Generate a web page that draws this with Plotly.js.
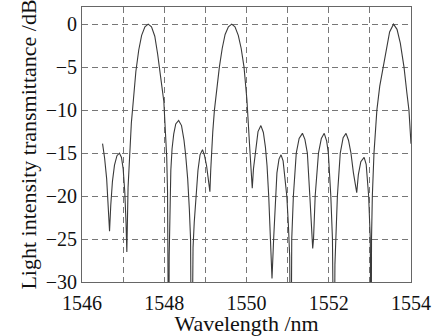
<!DOCTYPE html>
<html>
<head>
<meta charset="utf-8">
<script src="https://cdn.plot.ly/plotly-3.0.1.min.js"></script>
<style>html,body{margin:0;padding:0;background:#fff;}#chart{width:447px;height:336px;}</style>
</head>
<body>
<div id="chart"></div>
<script>
// Wavelength (nm) and transmittance (dB)
const wavelength = [
1546.50,1546.55,1546.60,1546.64,1546.67,1546.70,1546.74,1546.79,1546.85,1546.91,
1546.96,1547.00,1547.04,1547.07,1547.09,1547.12,1547.16,1547.20,1547.25,1547.31,
1547.38,1547.45,1547.53,1547.61,1547.69,1547.77,1547.84,1547.87,1547.93,1547.99,
1548.03,1548.06,1548.08,1548.10,1548.11,1548.12,1548.135,1548.16,1548.19,1548.23,
1548.28,1548.35,1548.42,1548.48,1548.52,1548.57,1548.61,1548.64,1548.665,1548.68,
1548.70,1548.73,1548.77,1548.82,1548.87,1548.93,1548.98,1549.03,1549.07,1549.11,
1549.13,1549.15,1549.18,1549.22,1549.28,1549.34,1549.41,1549.48,1549.56,1549.64,
1549.72,1549.80,1549.87,1549.94,1550.01,1550.05,1550.08,1550.11,1550.14,1550.17,
1550.22,1550.28,1550.35,1550.41,1550.46,1550.50,1550.54,1550.58,1550.62,1550.66,
1550.70,1550.74,1550.79,1550.84,1550.89,1550.94,1550.98,1551.02,1551.05,1551.08,
1551.10,1551.14,1551.21,1551.28,1551.36,1551.42,1551.48,1551.54,1551.58,1551.61,
1551.63,1551.67,1551.75,1551.82,1551.89,1551.95,1551.99,1552.05,1552.09,1552.13,
1552.15,1552.17,1552.21,1552.28,1552.35,1552.42,1552.48,1552.54,1552.60,1552.68,
1552.72,1552.78,1552.86,1552.91,1552.94,1552.97,1553.01,1553.03,1553.04,1553.06,
1553.10,1553.17,1553.24,1553.32,1553.40,1553.48,1553.575,1553.66,1553.74,1553.83,
1553.90,1553.95,1554.00
];
const transmittance = [
-13.9,-15.6,-18.0,-21.0,-24.1,-21.0,-18.3,-16.4,-15.3,-15.0,
-15.5,-16.8,-19.5,-23.0,-26.5,-19.0,-14.5,-11.5,-8.8,-5.5,
-3.0,-1.3,-0.3,0,-0.3,-1.4,-3.5,-4.8,-6.8,-9.0,
-12.0,-15.5,-19.5,-26.0,-45,-27,-21,-17,-14.5,-12.8,
-11.6,-11.2,-11.8,-13.5,-15.2,-18.0,-21.5,-25.0,-45,-30,
-26,-23,-20,-17,-15.2,-14.6,-15.3,-16.5,-18.0,-19.5,
-17.0,-15.0,-12.5,-10.0,-7.3,-5.0,-2.8,-1.2,-0.3,0,
-0.3,-1.3,-2.8,-5.0,-8.8,-11.5,-14.5,-16.8,-19.1,-16.8,
-14.5,-12.5,-11.8,-12.6,-14.3,-16.5,-20.0,-24.0,-29.6,-25.0,
-20.0,-17.3,-15.7,-15.2,-15.9,-17.8,-20.0,-23.5,-27.0,-45,
-25,-20,-15,-13.3,-12.7,-13.4,-15.0,-20.0,-24.0,-26.1,
-25.0,-20.0,-15.0,-13.3,-12.7,-13.6,-15.0,-20.0,-25.0,-45,
-28,-25,-20,-15,-13.2,-12.7,-13.5,-15.0,-17.3,-19.6,
-17.5,-16.0,-15.5,-16.3,-17.8,-20.0,-25.0,-45,-25,-20,
-15,-10,-7.2,-5.0,-2.6,-0.9,0,-0.6,-2.2,-5.0,
-8.0,-10.0,-13.9
];
const xTickVals = [1546,1547,1548,1549,1550,1551,1552,1553,1554];
const xTickText = ["1546","","1548","","1550","","1552","","1554"];
const yTickVals = [-30,-25,-20,-15,-10,-5,0];
const yTickText = ["\u221230","\u221225","\u221220","\u221215","\u221210","\u22125","0"];

const font = "Liberation Serif";
const trace = {
  x: wavelength, y: transmittance, type: "scatter", mode: "lines",
  line: {color: "#3a3a3a", width: 1.1}, hoverinfo: "none"
};
const axisCommon = {
  showline: true, mirror: true, linecolor: "#666", linewidth: 1,
  showgrid: true, gridcolor: "#777", gridwidth: 1, griddash: "6px,4px",
  zeroline: false, ticks: "", tickfont: {family: font, size: 20, color: "#111"}
};
const layout = {
  width: 447, height: 336,
  margin: {l: 82, r: 36, t: 7, b: 54},
  paper_bgcolor: "#fff", plot_bgcolor: "#fff",
  showlegend: false,
  font: {family: font},
  xaxis: Object.assign({}, axisCommon, {
    range: [1546, 1554], tickmode: "array", tickvals: xTickVals, ticktext: xTickText,
    ticklabelstandoff: 3,
    title: {text: "Wavelength /nm", font: {family: font, size: 22, color: "#111"}, standoff: 9}
  }),
  yaxis: Object.assign({}, axisCommon, {
    range: [-30, 2], tickmode: "array", tickvals: yTickVals, ticktext: yTickText,
    title: {text: "Light intensity transmittance /dB", font: {family: font, size: 22, color: "#111"}, standoff: 3}
  })
};
Plotly.newPlot("chart", [trace], layout, {displayModeBar: false, staticPlot: true});
</script>
</body>
</html>
